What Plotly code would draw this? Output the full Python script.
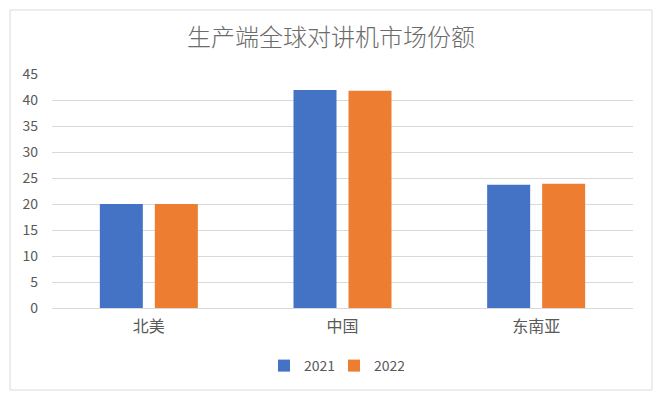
import plotly.graph_objects as go

categories = ["北美", "中国", "东南亚"]
series_names = ["2021", "2022"]
values_2021 = [20.0, 41.9, 23.7]
values_2022 = [20.0, 41.8, 23.9]
colors = ["#4472C4", "#ED7D31"]
y_ticks = [0, 5, 10, 15, 20, 25, 30, 35, 40, 45]

W, H = 663, 399
L, R, T, B = 52, 30, 74, 91
pw, ph = W - L - R, H - T - B

def px_x(x):
    return (x - L) / pw

def px_y(y):
    return (H - B - y) / ph

fig = go.Figure()
for name, vals, c in zip(series_names, [values_2021, values_2022], colors):
    fig.add_trace(go.Bar(x=categories, y=vals, name=name, marker=dict(color=c, line=dict(width=0))))

font = "Noto Sans CJK SC, Noto Sans, sans-serif"
fig.update_layout(
    width=W, height=H,
    margin=dict(l=L, r=R, t=T, b=B, autoexpand=False),
    paper_bgcolor="white", plot_bgcolor="white",
    barmode="group", bargap=0.432, bargroupgap=0.218,
    font=dict(family=font, color="#595959", size=13),
    title=dict(text="生产端全球对讲机市场份额", x=331 / W, xanchor="center",
               y=1 - 38 / H, yanchor="middle",
               font=dict(size=24, color="#6b6b6b", family=font, weight=300)),
    xaxis=dict(showgrid=False, showline=True, linecolor="#d9d9d9", linewidth=1,
               ticks="", tickfont=dict(size=16, color="#595959"), fixedrange=True,
               ticklabelstandoff=4),
    yaxis=dict(range=[0, 45], tickvals=y_ticks, showgrid=True, gridcolor="#d9d9d9",
               gridwidth=1, zeroline=False, showline=False, ticks="",
               tickfont=dict(size=14, color="#595959"), ticklabelstandoff=13),
    legend=dict(orientation="h", x=px_x(334), xanchor="center", y=px_y(366), yanchor="middle",
                font=dict(size=14, color="#595959"), itemwidth=30, traceorder="normal",
                entrywidth=25, entrywidthmode="pixels"),
    showlegend=True,
    shapes=[dict(type="rect", xref="paper", yref="paper",
                 x0=px_x(10), x1=px_x(652), y0=px_y(390), y1=px_y(10),
                 line=dict(color="#d9d9d9", width=1), fillcolor="rgba(0,0,0,0)", layer="below")],
)

fig.write_html("out.html", config={"displayModeBar": False},
               post_script="document.body.style.margin='0';document.body.style.overflow='hidden';")
